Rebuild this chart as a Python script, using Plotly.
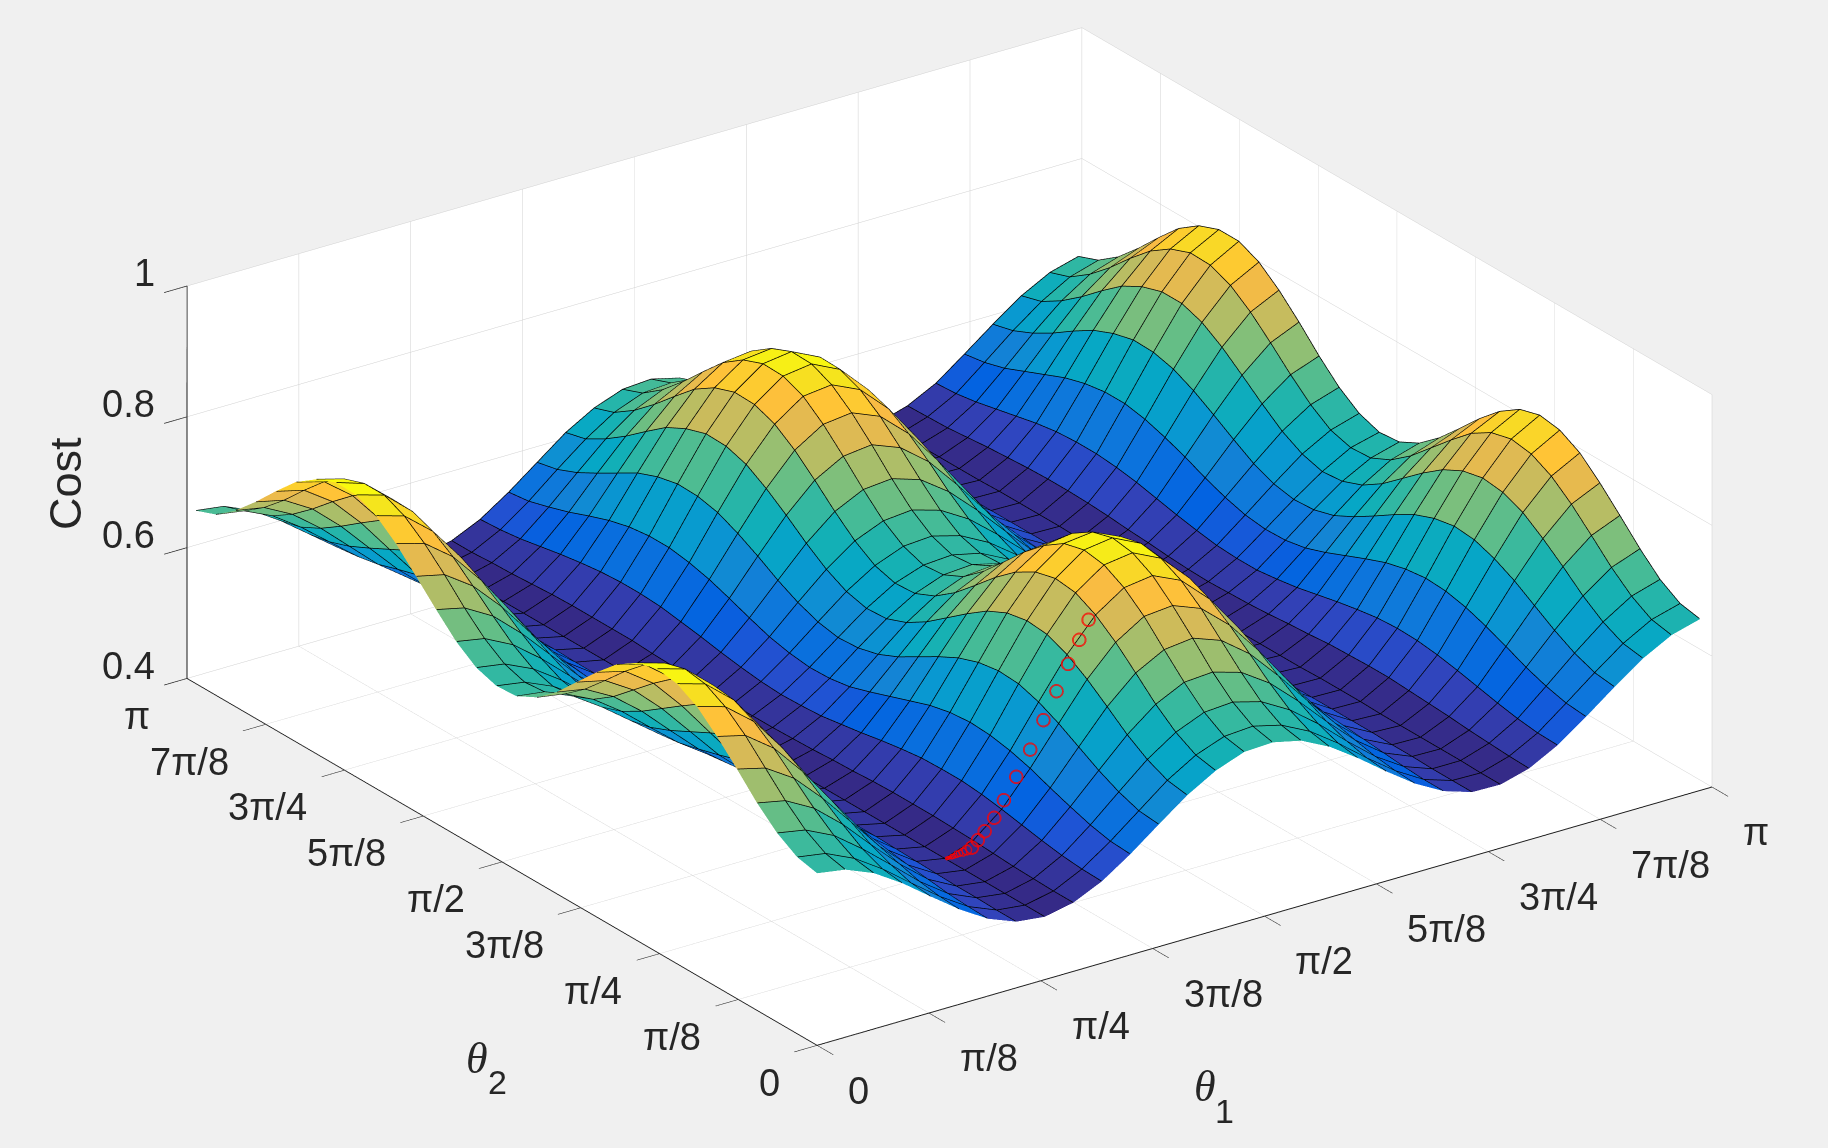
"""Cost landscape over theta1 / theta2 with an optimiser path on top."""
import plotly.graph_objects as go

PI = 3.14159265

theta1 = [0.0, 0.1, 0.2, 0.3, 0.4, 0.5, 0.6, 0.7, 0.8, 0.9, 1.0, 1.1, 1.2, 1.3, 1.4, 1.5,
          1.6, 1.7, 1.8, 1.9, 2.0, 2.1, 2.2, 2.3, 2.4, 2.5, 2.6, 2.7, 2.8, 2.9, 3.0, 3.1]
theta2 = [0.0, 0.1, 0.2, 0.3, 0.4, 0.5, 0.6, 0.7, 0.8, 0.9, 1.0, 1.1, 1.2, 1.3, 1.4, 1.5,
          1.6, 1.7, 1.8, 1.9, 2.0, 2.1, 2.2, 2.3, 2.4, 2.5, 2.6, 2.7, 2.8, 2.9, 3.0, 3.1]

# one row per theta2, one column per theta1
cost = [
    [.667, .660, .642, .614, .581, .549, .522, .505, .500, .509, .529, .558, .591, .623, .648, .664, .666, .656, .634, .604, .571, .540, .516, .502, .501, .513, .536, .567, .600, .631, .654, .666],
    [.674, .667, .647, .618, .584, .551, .523, .505, .500, .509, .530, .560, .594, .628, .654, .670, .673, .662, .640, .609, .574, .542, .516, .502, .501, .514, .537, .570, .604, .636, .660, .672],
    [.693, .685, .664, .631, .594, .556, .525, .506, .500, .510, .533, .567, .605, .642, .671, .689, .692, .680, .655, .621, .582, .546, .518, .502, .502, .516, .541, .578, .616, .651, .678, .691],
    [.721, .712, .688, .651, .607, .565, .529, .506, .500, .511, .538, .577, .620, .662, .696, .717, .720, .707, .678, .638, .594, .553, .521, .503, .502, .518, .547, .589, .633, .673, .704, .720],
    [.755, .744, .716, .673, .624, .574, .533, .507, .500, .513, .544, .588, .638, .687, .726, .749, .754, .738, .705, .659, .609, .561, .524, .503, .502, .521, .554, .603, .653, .700, .735, .753],
    [.787, .776, .744, .696, .640, .584, .538, .508, .500, .515, .550, .600, .656, .711, .755, .782, .786, .769, .731, .680, .623, .569, .527, .504, .502, .523, .561, .616, .673, .725, .765, .785],
    [.815, .802, .767, .714, .653, .592, .541, .509, .500, .516, .555, .609, .671, .731, .779, .808, .814, .794, .753, .697, .634, .576, .530, .504, .502, .525, .567, .627, .689, .747, .790, .813],
    [.832, .819, .782, .726, .661, .597, .544, .510, .500, .517, .558, .615, .681, .744, .795, .825, .831, .810, .767, .708, .642, .580, .531, .504, .503, .527, .571, .634, .700, .760, .806, .830],
    [.837, .824, .786, .729, .664, .598, .544, .510, .500, .517, .558, .617, .683, .747, .799, .830, .836, .815, .771, .711, .644, .581, .532, .504, .503, .527, .572, .636, .703, .764, .811, .835],
    [.828, .815, .778, .724, .659, .596, .543, .509, .500, .517, .557, .614, .678, .741, .791, .822, .827, .807, .764, .705, .640, .579, .531, .504, .503, .526, .570, .632, .697, .757, .803, .826],
    [.808, .795, .761, .710, .649, .590, .540, .509, .500, .516, .553, .607, .667, .726, .773, .801, .807, .788, .747, .692, .631, .574, .529, .504, .502, .525, .565, .624, .685, .741, .784, .805],
    [.778, .767, .736, .689, .635, .581, .537, .508, .500, .514, .548, .596, .651, .704, .747, .773, .777, .760, .724, .674, .619, .567, .526, .504, .502, .522, .559, .612, .667, .718, .756, .776],
    [.745, .735, .708, .667, .619, .571, .532, .507, .500, .513, .542, .585, .633, .680, .717, .740, .744, .729, .697, .653, .605, .559, .523, .503, .502, .520, .552, .599, .647, .692, .726, .743],
    [.712, .704, .680, .645, .603, .562, .528, .506, .500, .511, .537, .574, .615, .656, .688, .708, .712, .698, .671, .633, .591, .551, .520, .503, .502, .517, .545, .586, .628, .666, .696, .711],
    [.686, .679, .658, .627, .590, .554, .524, .505, .500, .510, .532, .564, .601, .637, .665, .682, .686, .674, .650, .616, .580, .545, .518, .502, .501, .515, .540, .575, .612, .646, .672, .685],
    [.670, .664, .645, .616, .583, .550, .522, .505, .500, .509, .530, .559, .593, .625, .651, .667, .670, .659, .637, .607, .573, .541, .516, .502, .501, .514, .536, .569, .603, .634, .657, .669],
    [.668, .661, .642, .614, .581, .549, .522, .505, .500, .509, .529, .558, .591, .623, .649, .664, .667, .657, .635, .605, .572, .540, .516, .502, .501, .513, .536, .568, .601, .631, .655, .666],
    [.678, .671, .651, .621, .586, .552, .523, .505, .500, .509, .531, .562, .597, .631, .658, .675, .678, .666, .643, .611, .576, .543, .517, .502, .501, .514, .538, .572, .607, .640, .664, .677],
    [.700, .692, .670, .636, .597, .558, .526, .506, .500, .510, .535, .569, .609, .647, .678, .696, .700, .687, .661, .625, .586, .548, .519, .503, .502, .516, .543, .581, .620, .657, .685, .699],
    [.731, .721, .696, .657, .612, .567, .530, .507, .500, .512, .540, .580, .625, .669, .705, .726, .730, .716, .685, .644, .599, .555, .522, .503, .502, .519, .549, .593, .639, .681, .713, .729],
    [.764, .754, .724, .680, .628, .577, .535, .508, .500, .514, .546, .592, .644, .694, .735, .759, .764, .747, .713, .665, .613, .564, .525, .503, .502, .521, .556, .607, .659, .707, .744, .763],
    [.796, .784, .751, .702, .644, .586, .539, .509, .500, .515, .551, .603, .661, .717, .763, .790, .795, .777, .738, .685, .627, .571, .528, .504, .502, .524, .563, .619, .678, .732, .773, .794],
    [.821, .808, .772, .719, .656, .594, .542, .509, .500, .517, .556, .611, .675, .736, .785, .815, .820, .800, .758, .701, .637, .577, .530, .504, .503, .526, .568, .629, .693, .752, .796, .819],
    [.835, .822, .784, .728, .663, .598, .544, .510, .500, .517, .558, .616, .682, .746, .797, .828, .834, .813, .769, .710, .643, .581, .532, .504, .503, .527, .571, .635, .701, .763, .809, .833],
    [.836, .822, .785, .729, .663, .598, .544, .510, .500, .517, .558, .616, .683, .747, .798, .829, .835, .814, .770, .710, .643, .581, .532, .504, .503, .527, .571, .635, .702, .763, .810, .833],
    [.823, .811, .774, .720, .657, .594, .542, .509, .500, .517, .556, .612, .676, .737, .787, .817, .822, .802, .760, .702, .638, .578, .531, .504, .503, .526, .569, .630, .694, .753, .798, .821],
    [.801, .789, .755, .705, .646, .588, .540, .509, .500, .516, .552, .604, .664, .721, .767, .795, .800, .781, .742, .688, .629, .572, .528, .504, .502, .524, .564, .621, .681, .736, .777, .799],
    [.769, .758, .728, .683, .630, .578, .535, .508, .500, .514, .547, .593, .646, .697, .738, .763, .768, .751, .716, .668, .615, .565, .525, .503, .502, .522, .557, .608, .662, .711, .748, .767],
    [.735, .725, .699, .660, .614, .569, .531, .507, .500, .512, .541, .581, .628, .672, .708, .730, .734, .719, .689, .647, .600, .556, .522, .503, .502, .519, .550, .595, .641, .684, .716, .733],
    [.704, .696, .673, .639, .599, .559, .527, .506, .500, .511, .535, .571, .611, .650, .681, .700, .703, .690, .664, .627, .587, .549, .519, .503, .502, .516, .543, .582, .623, .660, .688, .702],
    [.680, .673, .653, .623, .588, .553, .524, .505, .500, .509, .531, .562, .598, .632, .660, .677, .680, .669, .645, .613, .577, .543, .517, .502, .501, .515, .538, .573, .609, .641, .666, .679],
    [.668, .662, .643, .615, .582, .549, .522, .505, .500, .509, .529, .558, .591, .624, .649, .665, .668, .657, .635, .605, .572, .540, .516, .502, .501, .514, .536, .568, .601, .632, .655, .667],
]

# optimiser path, start to end
path_theta1 = [1.372, 1.335, 1.291, 1.246, 1.191, 1.136, 1.078, 1.026, .985, .945, .917, .894,
               .875, .860, .848, .838, .830, .824, .818, .813, .809, .806, .803, .800]
path_theta2 = [.597, .591, .584, .578, .565, .553, .540, .528, .518, .509, .503, .500,
               .498, .496, .495, .494, .493, .492, .491, .491, .490, .490, .490, .490]
path_cost = [.772, .747, .717, .682, .647, .611, .579, .552, .532, .518, .509, .501,
             .500, .499, .499, .499, .498, .498, .498, .498, .498, .498, .498, .498]

angle_ticks = [0, PI / 8, PI / 4, 3 * PI / 8, PI / 2, 5 * PI / 8, 3 * PI / 4, 7 * PI / 8, PI]
angle_labels = ['0', 'π/8', 'π/4', '3π/8', 'π/2', '5π/8', '3π/4', '7π/8', 'π']
cost_ticks = [0.4, 0.6, 0.8, 1.0]
cost_labels = ['0.4', '0.6', '0.8', '1']

# MATLAB parula
parula = [
    [0 / 63, '#352a87'], [4 / 63, '#3243ba'], [6 / 63, '#2053d4'], [8 / 63, '#0363e1'],
    [12 / 63, '#0d75dc'], [16 / 63, '#1485d4'], [20 / 63, '#0998d1'], [24 / 63, '#06a7c6'],
    [28 / 63, '#15b1b4'], [32 / 63, '#38b99e'], [36 / 63, '#65be86'], [40 / 63, '#92bf73'],
    [44 / 63, '#b7bd64'], [48 / 63, '#d9ba56'], [52 / 63, '#f8bb44'], [54 / 63, '#ffc337'],
    [56 / 63, '#fcce2e'], [60 / 63, '#f5e41d'], [63 / 63, '#f9fb0e'],
]

TEXT = '#262626'
FONT = 'Liberation Sans'
TICK_SIZE = 38

# the table came out about this much high against the cost axis
READ_BIAS = 0.004

# view direction in box units; moving along it keeps a point's screen position
VIEW = (-0.5243, -0.7447, 0.41)
BOX = (PI, PI, 0.6 / 0.396)


def toward_camera(t):
    return [VIEW[n] * t * BOX[n] for n in range(3)]


# faceted surface: two triangles per cell, cell colour from its first corner
n1 = len(theta1)
n2 = len(theta2)
height = [[v - READ_BIAS for v in row] for row in cost]
vx, vy, vz = [], [], []
for row in range(n2):
    for col in range(n1):
        vx.append(theta1[col])
        vy.append(theta2[row])
        vz.append(height[row][col])

ti, tj, tk, cell_cost = [], [], [], []
for row in range(n2 - 1):
    for col in range(n1 - 1):
        a = row * n1 + col
        b = a + 1
        c = a + n1 + 1
        d = a + n1
        ti += [a, a]
        tj += [b, c]
        tk += [c, d]
        cell_cost += [cost[row][col]] * 2

fig = go.Figure()
fig.add_trace(go.Mesh3d(
    x=vx, y=vy, z=vz, i=ti, j=tj, k=tk,
    intensity=cell_cost, intensitymode='cell',
    colorscale=parula, cmin=0.5, cmax=0.837, showscale=False,
    flatshading=True,
    lighting=dict(ambient=1, diffuse=0, specular=0, roughness=1, fresnel=0),
    hoverinfo='skip',
))

# black mesh lines, nudged at the camera so they show on tops and undersides alike
mx, my, mz = toward_camera(0.0015)
lx, ly, lz = [], [], []
for row in range(n2):
    lx += [v + mx for v in theta1] + [None]
    ly += [theta2[row] + my] * n1 + [None]
    lz += [v + mz for v in height[row]] + [None]
for col in range(n1):
    lx += [theta1[col] + mx] * n2 + [None]
    ly += [v + my for v in theta2] + [None]
    lz += [height[row][col] + mz for row in range(n2)] + [None]
fig.add_trace(go.Scatter3d(x=lx, y=ly, z=lz, mode='lines',
                           line=dict(color='#000000', width=1.5),
                           hoverinfo='skip', showlegend=False))

# path markers sit on the surface in the reference; same nudge, larger, so none are clipped
px, py, pz = toward_camera(0.04)
path_sizes = [16] * 12 + [12, 10, 8, 8, 6, 6, 6, 4, 4, 4, 4, 4]
fig.add_trace(go.Scatter3d(x=[v + px for v in path_theta1],
                           y=[v + py for v in path_theta2],
                           z=[v + pz for v in path_cost], mode='markers',
                           marker=dict(symbol='circle-open', size=path_sizes, sizemode='diameter',
                                       color='#ff0000', line=dict(color='#ff0000', width=2)),
                           hoverinfo='skip', showlegend=False))


def axis_style(vals, rng):
    return dict(
        range=rng, tickmode='array', tickvals=vals, showticklabels=False,
        showgrid=True, gridcolor='#d0d0d0', gridwidth=1, zeroline=False,
        showbackground=True, backgroundcolor='white',
        showline=True, linecolor='#1a1a1a', linewidth=2,
        ticks='outside', ticklen=28, tickcolor=TEXT, tickwidth=1.5,
        showspikes=False, title=dict(text=''),
    )


# tick labels stay flat on screen, so they go in as scene annotations at the tick positions
tick_font = dict(family=FONT, size=TICK_SIZE, color=TEXT)
labels = []
for val, lab in zip(angle_ticks, angle_labels):
    labels.append(dict(x=val, y=0, z=0.4, text=lab, showarrow=False, font=tick_font,
                       xanchor='left', yanchor='middle', xshift=29, yshift=-45))
    labels.append(dict(x=0, y=val, z=0.4, text=lab, showarrow=False, font=tick_font,
                       xanchor='right', yanchor='middle', xshift=-35, yshift=-37))
for val, lab in zip(cost_ticks, cost_labels):
    labels.append(dict(x=0, y=PI, z=val, text=lab, showarrow=False, font=tick_font,
                       xanchor='right', yanchor='middle', xshift=-30, yshift=13))

fig.update_layout(
    width=1828, height=1148,
    margin=dict(l=0, r=0, t=0, b=0),
    paper_bgcolor='#f0f0f0',
    showlegend=False,
    scene=dict(
        domain=dict(x=[0.0387, 1], y=[0.065, 1]),
        xaxis=axis_style(angle_ticks, [0, PI]),
        yaxis=axis_style(angle_ticks, [0, PI]),
        zaxis=axis_style(cost_ticks, [0.4, 1]),
        aspectmode='manual',
        aspectratio=dict(x=2.04, y=2.04, z=0.802),
        camera=dict(
            projection=dict(type='orthographic'),
            eye=dict(x=-1.047, y=-1.487, z=0.8175),
            center=dict(x=0, y=0, z=0),
            up=dict(x=0, y=0, z=1),
        ),
        annotations=labels,
    ),
    annotations=[
        dict(text='Cost', x=0.036, y=0.579, xref='paper', yref='paper', textangle=-90,
             xanchor='center', yanchor='middle', showarrow=False,
             font=dict(family=FONT, size=45, color=TEXT)),
        dict(text='<i>θ</i>', x=0.261, y=0.078, xref='paper', yref='paper',
             xanchor='center', yanchor='middle', showarrow=False,
             font=dict(family='Liberation Serif', size=44, color=TEXT)),
        dict(text='2', x=0.272, y=0.0575, xref='paper', yref='paper',
             xanchor='center', yanchor='middle', showarrow=False,
             font=dict(family=FONT, size=34, color=TEXT)),
        dict(text='<i>θ</i>', x=0.659, y=0.0535, xref='paper', yref='paper',
             xanchor='center', yanchor='middle', showarrow=False,
             font=dict(family='Liberation Serif', size=44, color=TEXT)),
        dict(text='1', x=0.670, y=0.0325, xref='paper', yref='paper',
             xanchor='center', yanchor='middle', showarrow=False,
             font=dict(family=FONT, size=34, color=TEXT)),
    ],
)

fig.write_html("out.html", config=dict(displayModeBar=False),
               post_script="document.body.style.margin='0';document.body.style.background='#f0f0f0';")
